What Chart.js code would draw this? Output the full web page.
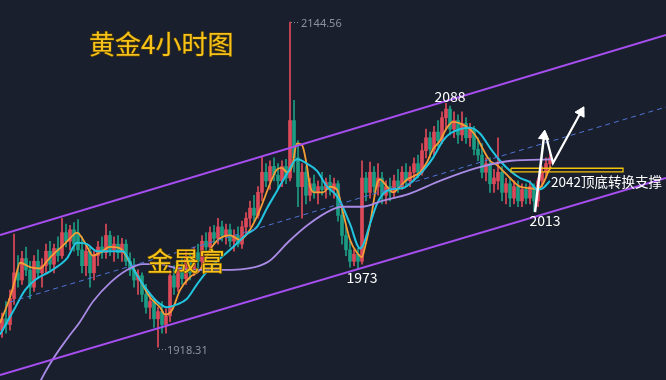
<!DOCTYPE html>
<html><head><meta charset="utf-8">
<script src="https://cdn.jsdelivr.net/npm/chart.js@4.4.1/dist/chart.umd.min.js"></script>
<style>html,body{margin:0;padding:0;background:#191f2c;}#wrap{width:666px;height:380px;position:relative}</style>
</head><body><div id="wrap"><canvas id="c"></canvas></div>
<script>
// 4-hour gold candles (price)
const opens = [1930,1938,1934,1952,1970,1965,1980,1972,1960,1978,
1970,1975,1985,1976,1987,1982,1998,1992,2000,1998,
1986,1975,1985,1970,1982,1988,1984,1996,1986,1990,
1984,1990,1978,1972,1965,1968,1955,1946,1950,1938,
1943,1934,1940,1968,1960,1974,1966,1980,1970,1984,
1978,1992,1988,1998,1994,2002,1996,2000,1992,1996,
1990,2002,2008,2015,2010,2026,2040,2034,2044,2038,
2034,2044,2036,2076,2050,2030,2040,2024,2032,2026,
2030,2028,2033,2028,2032,2010,1996,1986,1978,1983,
1978,2036,2026,2040,2030,2036,2024,2030,2026,2034,
2030,2040,2034,2040,2046,2040,2055,2064,2056,2068,
2062,2078,2084,2070,2076,2066,2074,2064,2070,2056,
2052,2040,2046,2032,2034,2040,2026,2032,2022,2030,
2020,2028,2022,2030,2020,2034,2040,2046];
const highs = [1942,1950,1958,1997,1982,1985,1988,1978,1982,1986,
1980,1990,1992,1990,1995,2008,2004,2003,2005,2007,
1995,1990,1988,1985,1992,1995,2004,1999,1995,1996,
1994,1993,1984,1980,1972,1970,1962,1955,1952,1946,
1950,1945,1972,1975,1978,1980,1985,1984,1988,1990,
1996,1998,2002,2003,2008,2006,2004,2004,2000,2002,
2006,2012,2020,2024,2030,2051,2046,2048,2050,2046,
2048,2049,2144.56,2090,2062,2046,2044,2036,2038,2034,
2040,2036,2038,2036,2034,2014,2002,1992,1986,1987,
2048,2040,2047,2044,2046,2040,2034,2036,2038,2042,
2044,2046,2044,2050,2052,2060,2070,2068,2072,2076,
2082,2088,2086,2082,2080,2082,2078,2074,2072,2064,
2060,2050,2050,2042,2064,2044,2036,2036,2034,2034,
2032,2032,2034,2032,2036,2044,2050,2054];
const lows = [1925,1928,1930,1948,1960,1962,1968,1952,1957,1966,
1960,1970,1972,1970,1978,1980,1988,1986,1985,1982,
1970,1968,1960,1965,1975,1980,1980,1982,1978,1980,
1978,1975,1968,1960,1955,1950,1942,1938,1932,1918.31,
1928,1928,1936,1955,1957,1962,1962,1965,1968,1972,
1975,1984,1985,1990,1990,1992,1990,1988,1985,1988,
1987,1996,2002,2006,2008,2020,2030,2028,2034,2028,
2030,2032,2034,2040,2016,2008,2018,2020,2022,2018,
2024,2022,2024,2022,2006,1990,1982,1974,1975,1973,
1976,2020,2022,2026,2024,2018,2018,2020,2022,2026,
2028,2030,2030,2034,2036,2038,2050,2050,2052,2058,
2060,2070,2066,2064,2060,2062,2060,2058,2052,2048,
2036,2034,2026,2026,2028,2020,2018,2016,2018,2016,
2016,2018,2018,2013,2016,2030,2036,2042];
const closes = [1938,1934,1952,1970,1965,1980,1972,1960,1978,1970,
1975,1985,1976,1987,1982,1998,1992,2000,1990,1986,
1975,1985,1970,1982,1988,1984,1996,1986,1990,1984,
1990,1978,1972,1965,1968,1955,1946,1950,1938,1943,
1934,1940,1968,1960,1974,1966,1980,1970,1984,1978,
1992,1988,1998,1994,2002,1996,2000,1992,1996,1990,
2002,2008,2015,2010,2026,2040,2034,2044,2038,2034,
2044,2036,2076,2050,2030,2040,2024,2032,2026,2030,
2028,2033,2028,2032,2010,1996,1986,1978,1983,1978,
2036,2026,2040,2030,2036,2024,2030,2026,2034,2030,
2040,2034,2040,2046,2040,2055,2064,2056,2068,2062,
2078,2084,2070,2076,2066,2074,2064,2070,2056,2052,
2040,2046,2032,2036,2040,2026,2032,2022,2030,2020,
2028,2022,2030,2020,2034,2040,2046,2050];

// moving averages: [bar index, price]
const maFast = [[-0.5,1935],[2,1953],[3.25,1965],[4.5,1977],[7,1974],[9.5,1973],[11.5,1979],[13.25,1984],[15.25,1989],[17,1994],[18.75,1998],[20.75,1991],[22.75,1982],[24.5,1984],[27,1988],[29.5,1987],[32,1977],[34.5,1965],[37,1953],[39.5,1946],[40.75,1941],[42.5,1944],[44.5,1958],[47,1967],[49.5,1972],[52,1986],[54.5,1994],[57,1996],[59.5,1993],[62,2000],[64.5,2014],[67,2032],[68.75,2042],[70,2043],[71.25,2040],[72.5,2044],[73.75,2060],[75,2059],[76.25,2044],[77,2030],[78.25,2026],[80.25,2026],[82,2030],[83.75,2028],[85.25,2012],[87,1993],[88.75,1984],[90,1981],[90.75,1988],[92,2004],[93.75,2032],[94.5,2035],[96.25,2030],[97.75,2026],[99.5,2030],[101.25,2035],[102.75,2037],[104.5,2040],[106.25,2047],[107.75,2056],[109.5,2062],[111.25,2071],[112.75,2075],[114.5,2074],[117,2070],[118.75,2064],[120.25,2056],[122,2048],[123.75,2045],[125.25,2041],[127,2036],[129.5,2030],[132,2029],[133.75,2028],[135.25,2032],[136.5,2040],[137.25,2044]];
const maMid = [[-0.5,1927],[2.75,1943],[5.75,1958],[8.25,1965],[12,1971],[16.25,1980],[18.75,1991],[21.25,1990],[23.75,1985],[27,1985],[30.25,1985],[32.75,1973],[35.25,1962],[38.75,1950],[41.25,1946],[43.75,1948],[46.25,1952],[48.75,1962],[51.25,1971],[54.5,1980],[57,1986],[61.25,1997],[63.75,2002],[66.25,2015],[68.75,2027],[71.25,2039],[73.75,2049],[76.25,2046],[78.75,2041],[81.25,2030],[83.25,2025],[84.5,2020],[87,2004],[89.5,1987],[90.25,1989],[92,2004],[93.75,2018],[95.25,2025],[97,2028],[100.25,2029],[102.75,2034],[105.25,2041],[107.75,2050],[110.25,2062],[112,2067],[114.5,2070],[117,2071],[119.5,2067],[122,2057],[124.5,2048],[127,2041],[129.5,2036],[132,2033],[133.75,2028],[135.25,2029],[137,2034]];
const maSlow = [[8,1884],[9.5,1894],[12.75,1910],[16.25,1924],[19.5,1936],[22.75,1950],[27,1963],[31.25,1972],[35.25,1976],[39.5,1976],[43.75,1973],[49.5,1972],[55,1972],[63.25,1974],[66.75,1978],[71.75,1992],[76.75,2004],[82.5,2014],[85,2016],[90,2016],[95,2020],[101.75,2025],[109.5,2034],[118.75,2043],[127.25,2048],[137.5,2049]];

// channel (trend lines) and marks
const channelUpper = [[-0.5,1996.3],[166,2135.5]];
const channelLower = [[-0.5,1898.8],[166,2036.0]];
const channelMid = [[2,1949.7],[166,2085.4]];
const supportBox = [[127.25,2042.8],[155.25,2042.8],[155.25,2040.3],[127.25,2040.3],[127.25,2042.8]];
const arrowUp1 = [[133.25,2012.3],[135.5,2065.2]];
const arrowUp2 = [[136.25,2062.4],[137.75,2046.4],[144.75,2081.9]];
const extremeHigh = {i:72, label:'2144.56'};
const extremeLow = {i:39, label:'1918.31'};
const pivotLabels = [{i:111, price:2088, text:'2088', pos:'above'},{i:89, price:1973, text:'1973', pos:'below'},{i:133, price:2013, text:'2013', pos:'below'}];
const supportLabel = {price:2042, text:'2042顶底转换支撑'};
const titleText = '黄金4小时图';
const brandText = '金晟富';

const UP = '#dc4a5a', DOWN = '#1c9c84';
const colors = closes.map((c,i)=> c>=opens[i] ? UP : DOWN);
const pts = a => a.map(p=>({x:p[0], y:p[1]}));

const textPlugin = {
  id:'texts',
  afterDatasetsDraw(chart){
    const {ctx, scales:{x,y}} = chart;
    ctx.save();
    const cjk = '"Noto Sans CJK SC", "Noto Sans", sans-serif';
    // title & brand
    ctx.textBaseline='middle'; ctx.textAlign='left';
    ctx.font = '26px '+cjk;
    ctx.lineWidth = 1.2; ctx.strokeStyle='#5c4400';
    ctx.strokeText(titleText, 89, 44);
    ctx.fillStyle = '#f7c21a'; ctx.fillText(titleText, 89, 44);
    ctx.font = '26px '+cjk;
    ctx.strokeText(brandText, 147, 261);
    ctx.fillText(brandText, 147, 261);
    // extremes
    ctx.font = '11px "Noto Sans", sans-serif';
    ctx.fillStyle = '#8c929e'; ctx.strokeStyle='#8c929e'; ctx.lineWidth=1;
    ctx.setLineDash([1,2]);
    let hx = x.getPixelForValue(extremeHigh.i), hy = y.getPixelForValue(highs[extremeHigh.i]);
    ctx.beginPath(); ctx.moveTo(hx+1, hy+0.5); ctx.lineTo(hx+10, hy+0.5); ctx.stroke();
    ctx.fillText(extremeHigh.label, hx+11, hy+2);
    let lx = x.getPixelForValue(extremeLow.i), ly = y.getPixelForValue(lows[extremeLow.i]);
    ctx.beginPath(); ctx.moveTo(lx+1, ly+2.5); ctx.lineTo(lx+8, ly+2.5); ctx.stroke();
    ctx.fillText(extremeLow.label, lx+9, ly+4);
    ctx.setLineDash([]);
    // pivots
    ctx.font = '14px '+cjk; ctx.fillStyle='#ffffff'; ctx.textAlign='center';
    pivotLabels.forEach(p=>{
      const px = x.getPixelForValue(p.i), py = y.getPixelForValue(p.price);
      if(p.pos==='above') ctx.fillText(p.text, px+4, py-7);
      else ctx.fillText(p.text, px+ (p.i===133?11:4), py+9.5);
    });
    ctx.textAlign='left'; ctx.font='13.5px '+cjk;
    ctx.fillText(supportLabel.text, x.getPixelForValue(supportBox[0][0])+40, y.getPixelForValue(supportLabel.price)+12);
    ctx.restore();
  }
};

new Chart(document.getElementById('c'), {
  type:'bar',
  data:{datasets:[
    {type:'line', data:pts(arrowUp1), borderColor:'#ffffff', borderWidth:2.5, order:1,
     pointRadius:c=>c.dataIndex===1?6:0, pointStyle:'triangle', pointRotation:7, pointBackgroundColor:'#ffffff', pointBorderColor:'#ffffff', pointBorderWidth:1},
    {type:'line', data:pts(arrowUp2), borderColor:'#ffffff', borderWidth:2.2, order:1,
     pointRadius:c=>c.dataIndex===2?6:0, pointStyle:'triangle', pointRotation:29, pointBackgroundColor:'#ffffff', pointBorderColor:'#ffffff', pointBorderWidth:1},
    {type:'line', data:pts(supportBox), borderColor:'#f2c40c', borderWidth:1.3, pointRadius:0, order:2, tension:0},
    {type:'line', data:pts(channelUpper), borderColor:'#a64ef0', borderWidth:2, pointRadius:0, order:3},
    {type:'line', data:pts(channelLower), borderColor:'#a64ef0', borderWidth:2, pointRadius:0, order:3},
    {type:'line', data:pts(channelMid), borderColor:'#4f74d4', borderWidth:1, borderDash:[5,4], pointRadius:0, order:3},
    {type:'line', data:pts(maSlow), borderColor:'#a98be6', borderWidth:1.8, pointRadius:0, cubicInterpolationMode:'monotone', order:4},
    {type:'line', data:pts(maMid), borderColor:'#22c4e0', borderWidth:2, pointRadius:0, cubicInterpolationMode:'monotone', order:4},
    {type:'line', data:pts(maFast), borderColor:'#f59e36', borderWidth:1.8, pointRadius:0, cubicInterpolationMode:'monotone', order:4},
    {type:'bar', data:highs.map((h,i)=>({x:i, y:[lows[i], h]})), backgroundColor:colors, barThickness:1, grouped:false, order:9},
    {type:'bar', data:opens.map((o,i)=>({x:i, y:[o, closes[i]]})), backgroundColor:colors, barThickness:3, minBarLength:1, grouped:false, order:8}
  ]},
  options:{
    responsive:true, maintainAspectRatio:false, animation:false,
    layout:{padding:0, autoPadding:false},
    plugins:{legend:{display:false}, tooltip:{enabled:false}},
    scales:{
      x:{type:'linear', min:-0.5, max:166, display:false, offset:false},
      y:{min:1895.4, max:2159.9, display:false}
    }
  },
  plugins:[textPlugin]
});
</script></body></html>
